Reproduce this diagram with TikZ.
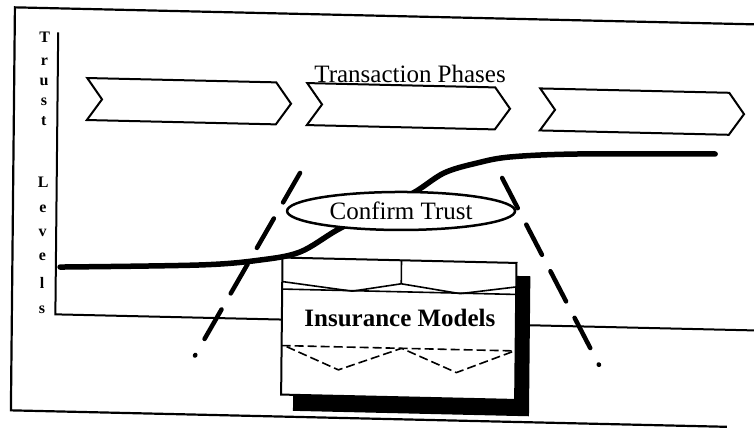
\documentclass[tikz,border=0pt]{standalone}
\usepackage{fontspec}
\setmainfont{Liberation Serif}
\usetikzlibrary{shapes.geometric}
\begin{document}
\begin{tikzpicture}[x={(1pt,-0.023pt)}, y={(-0.01pt,-1pt)},
  frameline/.style={line width=2.2pt},
  axisline/.style={line width=2pt},
  phase/.style={line width=2pt, line join=miter},
  boxline/.style={line width=2pt},
  thinline/.style={line width=1.6pt},
  thindash/.style={line width=1.6pt, dash pattern=on 9pt off 4pt},
  bigdash/.style={line width=4.5pt, line cap=round, dash pattern=on 34pt off 18.5pt},
  trustcurve/.style={line width=5.5pt, line cap=round},
  bigtext/.style={font=\fontsize{25}{30}\selectfont, inner sep=0pt},
  boldtext/.style={font=\bfseries\fontsize{25}{30}\selectfont, inner sep=0pt},
  lettr/.style={font=\bfseries\fontsize{16}{18}\selectfont, inner sep=0pt, anchor=base},
  confirmbox/.style={ellipse, draw, fill=white, line width=2.5pt, minimum width=228pt, minimum height=38pt, inner sep=0pt, font=\fontsize{25}{30}\selectfont}
]
\useasboundingbox (0pt,0pt) rectangle (754pt,-428pt);
\fill[white] (0pt,0pt) rectangle (754pt,-428pt);
% frame
\draw[frameline] (762,7) -- (15,7) -- (15,410) -- (731,410);
% axes
\draw[axisline] (58.5,31) -- (58.5,313) -- (762,313);
% axis label letters
\foreach \ch/\yy [count=\i] in {T/41,r/64.5,u/84.5,s/104.5,t/124.5,L/186,e/211.7,v/235.4,e/259.4,l/287.8,s/312}
  \node[lettr] (lt\i) at (45,\yy) {\ch};
% phases
\foreach \l/\r [count=\i] in {88/277,308/496,541/730}
  \draw[phase] (\l,76) -- (\r,76) -- (\r+15,97) -- (\r,118) -- (\l,118) -- (\l+15,97) -- cycle;
\node[bigtext, anchor=base] (phases) at (410.8,73.5) {Transaction Phases};
% insurance box with shadow
\fill[black] (297,264) -- (533,264) -- (533,404) -- (297,404) -- cycle;
\draw[boxline, fill=white] (285,251) -- (519,251) -- (519,388) -- (285,388) -- cycle;
\draw[thinline] (285,282.5) -- (519,282.5);
\draw[thinline] (404,251) -- (404,274.5);
\draw[thinline] (285,275) -- (355,283) -- (404,274.5) -- (463,283) -- (519,275);
\draw[thindash] (285,339) -- (519,339);
\draw[thindash] (290,340) -- (342,362) -- (405,339) -- (460,362) -- (518,339);
\node[boldtext] (ins) at (403,308.7) {Insurance Models};
% trust curve
\draw[trustcurve] plot[smooth, tension=0.55] coordinates {(62.7,265.6) (202.65,260.3) (262.6,254.0) (302.5,245.0) (339.3,222.2) (377,202) (414.9,183.5) (445.7,162.7) (478.6,152.0) (511.6,145.2) (578.5,140.7) (716.5,137.5)};
% confirm trust
\node[confirmbox] (confirm) at (403.1,201.7) {Confirm Trust};
% dashed guide lines
\coordinate (l1) at (301.7,166);
\coordinate (l2) at (198.5,351);
\coordinate (r1) at (503.8,166.4);
\coordinate (r2) at (602.45,351);
\draw[bigdash] (l1) -- (l2);
\draw[bigdash] (r1) -- (r2);
\end{tikzpicture}
\end{document}
